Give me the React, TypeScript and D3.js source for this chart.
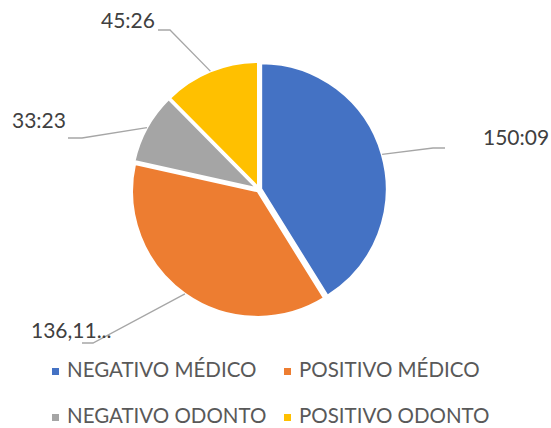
import React from "react";
import * as d3 from "d3";

const categories = ["NEGATIVO MÉDICO", "POSITIVO MÉDICO", "NEGATIVO ODONTO", "POSITIVO ODONTO"];
const values = [150.09, 136.11, 33.23, 45.26];
const valueLabels = ["150:09", "136,11...", "33:23", "45:26"];
const colors = ["#4472C4", "#ED7D31", "#A5A5A5", "#FFC000"];

// layout: label elbow/end points and text anchors
const labelLayout = [
  { elbow: [433, 148], end: [445, 148], text: [483, 145], anchor: "start" },
  { elbow: [93, 343], end: [82, 343], text: [31, 338], anchor: "start" },
  { elbow: [82, 138], end: [68, 138], text: [12, 128], anchor: "start" },
  { elbow: [170, 30], end: [158, 30], text: [101, 28], anchor: "start" },
];
const legendLayout = [
  { x: 52, y: 377 },
  { x: 284, y: 377 },
  { x: 52, y: 423 },
  { x: 284, y: 423 },
];

const W = 551, H = 428;
const cx = 259, cy = 189.5, R = 126, explode = 2;

export default function App() {
  const pie = d3.pie<number>().sort(null).value((d) => d);
  const arcs = pie(values);
  const arc = d3.arc<d3.PieArcDatum<number>>().innerRadius(0).outerRadius(R);
  return (
    <svg width={W} height={H} style={{ position: "absolute", left: 0, top: 0, background: "#fff" }}
      fontFamily="Lato, 'Open Sans', sans-serif">
      <rect width={W} height={H} fill="#fff" />
      {arcs.map((a, i) => {
        const mid = (a.startAngle + a.endAngle) / 2;
        const ox = Math.sin(mid) * explode, oy = -Math.cos(mid) * explode;
        return (
          <path key={i} d={arc(a) || ""} transform={`translate(${cx + ox},${cy + oy})`}
            fill={colors[i]} stroke="#fff" strokeWidth={2.5} strokeLinejoin="round" />
        );
      })}
      {arcs.map((a, i) => {
        const mid = (a.startAngle + a.endAngle) / 2;
        const ox = Math.sin(mid) * explode, oy = -Math.cos(mid) * explode;
        const sx = cx + ox + Math.sin(mid) * R, sy = cy + oy - Math.cos(mid) * R;
        const L = labelLayout[i];
        return (
          <g key={"l" + i}>
            <polyline points={`${sx},${sy} ${L.elbow[0]},${L.elbow[1]} ${L.end[0]},${L.end[1]}`}
              fill="none" stroke="#A6A6A6" strokeWidth={1.3} />
            <text x={L.text[0]} y={L.text[1]} fontSize={21} fill="#404040" textAnchor={L.anchor as any}>
              {valueLabels[i]}
            </text>
          </g>
        );
      })}
      {categories.map((c, i) => {
        const p = legendLayout[i];
        return (
          <g key={"lg" + i}>
            <rect x={p.x} y={p.y - 9} width={7} height={7} fill={colors[i]} />
            <text x={p.x + 15} y={p.y} fontSize={20.5} fill="#595959">{c}</text>
          </g>
        );
      })}
    </svg>
  );
}
